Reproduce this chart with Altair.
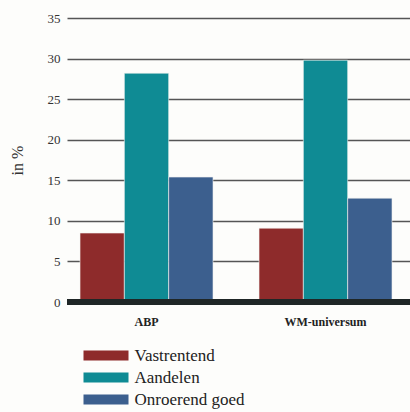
import altair as alt
import pandas as pd

groups = ["ABP", "WM-universum"]
series = ["Vastrentend", "Aandelen", "Onroerend goed"]
values = {
    "ABP": [8.5, 28.2, 15.4],
    "WM-universum": [9.1, 29.8, 12.8],
}
colors = ["#8E2B2B", "#0F8B94", "#3C5F8E"]
y_ticks = [0, 5, 10, 15, 20, 25, 30, 35]

rows = []
for g in groups:
    for s, v in zip(series, values[g]):
        rows.append({"groep": g, "categorie": s, "waarde": v})
df = pd.DataFrame(rows)

FONT = "Liberation Serif, Times New Roman, serif"

bars = alt.Chart(df).mark_bar(stroke="#f4f4f0", strokeWidth=0.6).encode(
    x=alt.X("groep:N", sort=groups, title=None,
            scale=alt.Scale(paddingInner=0.257, paddingOuter=0.0866, align=0.42),
            axis=alt.Axis(labelAngle=0, ticks=False, domain=False,
                          labelPadding=14, labelFont=FONT, labelFontSize=12,
                          labelColor="#222", labelFontWeight="bold")),
    xOffset=alt.XOffset("categorie:N", sort=series,
                        scale=alt.Scale(paddingInner=0, paddingOuter=0)),
    y=alt.Y("waarde:Q", title="in %",
            scale=alt.Scale(domain=[0, 35], nice=False),
            axis=alt.Axis(values=y_ticks, ticks=False, domain=False,
                          grid=True, gridColor="#555", gridWidth=1.6,
                          labelFont=FONT, labelFontSize=13, labelColor="#333",
                          labelPadding=7, titleFont=FONT, titleFontSize=16,
                          titleFontWeight="normal", titleColor="#333",
                          titlePadding=22)),
    color=alt.Color("categorie:N", sort=series,
                    scale=alt.Scale(domain=series, range=colors),
                    legend=alt.Legend(title=None, orient="none",
                                      legendX=30.5, legendY=329,
                                      symbolType="M-4.5,-1H4.5V1H-4.5Z",
                                      symbolSize=100, symbolStrokeWidth=0,
                                      symbolOpacity=1,
                                      labelFont=FONT, labelFontSize=17,
                                      labelColor="#222", labelOffset=20,
                                      rowPadding=4)),
)

base_df = pd.DataFrame({"y": [0]})
baseline = alt.Chart(base_df).mark_rule(color="#1f2626", strokeWidth=6).encode(
    y=alt.Y("y:Q")
)

chart = alt.layer(bars, baseline).properties(
    width=343, height=284,
    background="#fdfdfb",
    padding={"left": 67, "top": 18, "right": 0, "bottom": 110},
    autosize=alt.AutoSizeParams(type="none"),
).configure_view(stroke=None)

chart.save("out.html", embed_options={"renderer": "svg", "actions": False})
